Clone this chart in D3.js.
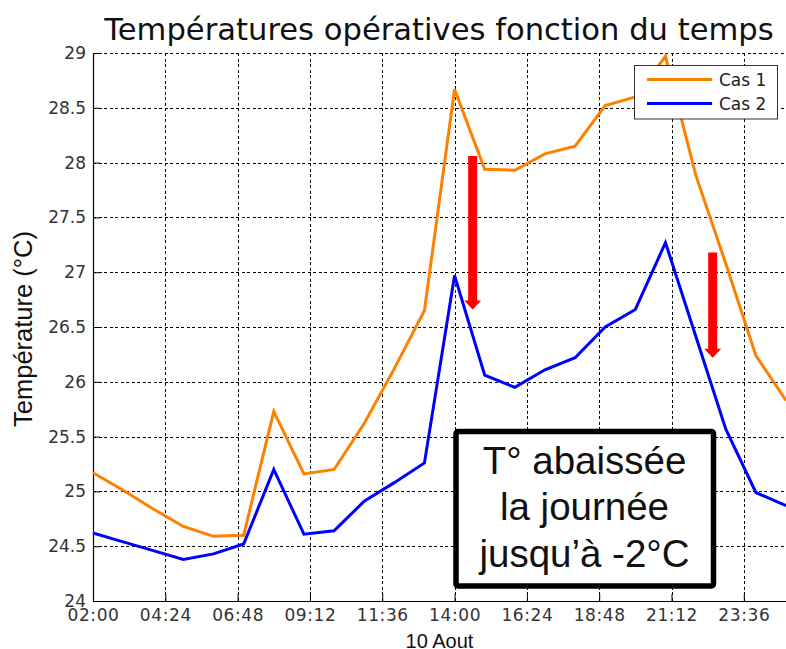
<!DOCTYPE html>
<html lang="fr">
  <head>
    <meta charset="UTF-8" />
    <title>Températures opératives</title>
    <script src="https://d3js.org/d3.v7.min.js"></script>
    <style>
      body { margin: 0; background: #fff; }
    </style>
  </head>
  <body>
    <svg width="786" height="649"></svg>

    <script>
      // hourly samples, 10 Aout 02:00 -> 11 Aout 01:00
      var hours = ["02:00", "03:00", "04:00", "05:00", "06:00", "07:00", "08:00", "09:00",
        "10:00", "11:00", "12:00", "13:00", "14:00", "15:00", "16:00", "17:00",
        "18:00", "19:00", "20:00", "21:00", "22:00", "23:00", "00:00", "01:00"];

      var cas1 = [25.17, 25.01, 24.84, 24.68, 24.59, 24.60, 25.73, 25.16,
        25.20, 25.62, 26.12, 26.65, 28.67, 27.94, 27.93, 28.08,
        28.15, 28.52, 28.60, 28.97, 27.89, 27.08, 26.24, 25.83];

      var cas2 = [24.62, 24.54, 24.46, 24.38, 24.43, 24.52, 25.20, 24.61,
        24.64, 24.91, 25.08, 25.26, 26.97, 26.06, 25.95, 26.11,
        26.22, 26.50, 26.66, 27.27, 26.42, 25.57, 24.99, 24.87];

      var xTickLabels = ["02:00", "04:24", "06:48", "09:12", "11:36", "14:00", "16:24", "18:48", "21:12", "23:36"];
      var yTickLabels = ["24", "24.5", "25", "25.5", "26", "26.5", "27", "27.5", "28", "28.5", "29"];

      // red arrows: time, start temp, end temp
      var arrowTimes = ["14:36", "22:34"];
      var arrowFrom = [28.06, 27.18];
      var arrowTo = [26.66, 26.22];

      var seriesNames = ["Cas 1", "Cas 2"];
      var seriesColors = ["#ff8000", "#0000ff"];

      var svg = d3.select("svg");
      var parseTime = d3.timeParse("%Y-%m-%d %H:%M");

      // times before 02:00 belong to the next day
      function toDate(hhmm) {
        var h = +hhmm.split(":")[0];
        return parseTime((h < 2 ? "2014-08-11 " : "2014-08-10 ") + hhmm);
      }

      var plotLeft = 93, plotRight = 786, plotTop = 53, plotBottom = 601;

      var x = d3.scaleTime()
        .domain([toDate("02:00"), toDate("01:00")])
        .range([plotLeft, plotRight]);

      var y = d3.scaleLinear().domain([24, 29]).range([plotBottom, plotTop]);

      var xTicks = xTickLabels.map(toDate);
      var yTicks = yTickLabels.map(Number);

      // dashed grid
      var grid = svg.append("g").attr("stroke", "#000").attr("stroke-width", 1)
        .attr("stroke-dasharray", "3,2.5").attr("shape-rendering", "crispEdges");
      grid.selectAll(".gx").data(xTicks.slice(1)).enter().append("line")
        .attr("x1", function (d) { return Math.round(x(d)) + 0.5; })
        .attr("x2", function (d) { return Math.round(x(d)) + 0.5; })
        .attr("y1", plotTop).attr("y2", plotBottom);
      grid.selectAll(".gy").data(yTicks.slice(1)).enter().append("line")
        .attr("y1", function (d) { return Math.round(y(d)) + 0.5; })
        .attr("y2", function (d) { return Math.round(y(d)) + 0.5; })
        .attr("x1", plotLeft).attr("x2", plotRight);

      // axes, ticks pointing inward
      var xAxis = d3.axisBottom(x).tickValues(xTicks).tickFormat(d3.timeFormat("%H:%M"))
        .tickSizeInner(-7).tickSizeOuter(0).tickPadding(8);
      var yAxis = d3.axisLeft(y).tickValues(yTicks).tickFormat(function (d, i) { return yTickLabels[i]; })
        .tickSizeInner(-7).tickSizeOuter(0).tickPadding(7);

      var gx = svg.append("g").attr("transform", "translate(0," + plotBottom + ")").call(xAxis);
      var gy = svg.append("g").attr("transform", "translate(" + plotLeft + ",0)").call(yAxis);

      [gx, gy].forEach(function (g) {
        g.select(".domain").attr("stroke", "#000").attr("stroke-width", 1.2);
        g.selectAll(".tick line").attr("stroke", "#000");
        g.selectAll(".tick text")
          .attr("fill", "#333")
          .style("font-family", "'DejaVu Sans', sans-serif")
          .style("font-size", "17px");
      });
      gx.selectAll(".tick text").style("letter-spacing", "0.6px");

      // lines
      var line = d3.line()
        .x(function (d, i) { return x(toDate(hours[i])); })
        .y(function (d) { return y(d); });

      [cas1, cas2].forEach(function (vals, k) {
        svg.append("path")
          .datum(vals)
          .attr("d", line)
          .attr("fill", "none")
          .attr("stroke", seriesColors[k])
          .attr("stroke-width", 3)
          .attr("stroke-linejoin", "miter");
      });

      // red arrows
      arrowTimes.forEach(function (t, i) {
        var ax = x(toDate(t)), y0 = y(arrowFrom[i]), y1 = y(arrowTo[i]);
        var head = 9, hw = 8.5, sw = 4.5;
        svg.append("path")
          .attr("fill", "#ff0000")
          .attr("d", "M" + (ax - sw) + "," + y0 + "L" + (ax + sw) + "," + y0 +
            "L" + (ax + sw) + "," + (y1 - head) + "L" + (ax + hw) + "," + (y1 - head) +
            "L" + ax + "," + y1 + "L" + (ax - hw) + "," + (y1 - head) +
            "L" + (ax - sw) + "," + (y1 - head) + "Z");
      });

      // annotation box
      svg.append("rect")
        .attr("x", 456).attr("y", 431.5).attr("width", 257.5).attr("height", 154.5)
        .attr("rx", 2)
        .attr("fill", "#fff").attr("stroke", "#000").attr("stroke-width", 5.5);

      var boxLines = ["T° abaissée", "la journée", "jusqu’à -2°C"];
      svg.selectAll(".boxtxt").data(boxLines).enter().append("text")
        .attr("x", 584.5)
        .attr("y", function (d, i) { return 474 + i * 46.4; })
        .attr("text-anchor", "middle")
        .attr("fill", "#111")
        .style("font-family", "'Liberation Sans', Arial, sans-serif")
        .style("font-size", "38.5px")
        .text(function (d) { return d; });

      // legend
      var lg = svg.append("g");
      lg.append("rect").attr("x", 634.5).attr("y", 65.5).attr("width", 143).attr("height", 53.5)
        .attr("fill", "#fff").attr("stroke", "#333").attr("stroke-width", 1);
      seriesNames.forEach(function (name, i) {
        var ly = 79.5 + i * 24;
        lg.append("line").attr("x1", 647).attr("x2", 712).attr("y1", ly).attr("y2", ly)
          .attr("stroke", seriesColors[i]).attr("stroke-width", 3);
        lg.append("text").attr("x", 719).attr("y", ly + 6.3)
          .attr("fill", "#222")
          .style("font-family", "'DejaVu Sans', sans-serif")
          .style("font-size", "17px")
          .text(name);
      });

      // titles
      svg.append("text")
        .attr("x", 439).attr("y", 39.5)
        .attr("text-anchor", "middle")
        .attr("fill", "#111")
        .style("font-family", "'DejaVu Sans', sans-serif")
        .style("font-size", "30.6px")
        .text("Températures opératives fonction du temps");

      svg.append("text")
        .attr("x", (plotLeft + plotRight) / 2).attr("y", 647.5)
        .attr("text-anchor", "middle")
        .attr("fill", "#111")
        .style("font-family", "'Liberation Sans', Arial, sans-serif")
        .style("font-size", "20px")
        .text("10 Aout");

      svg.append("text")
        .attr("transform", "translate(32,329) rotate(-90)")
        .attr("text-anchor", "middle")
        .attr("fill", "#111")
        .style("font-family", "'Liberation Sans', Arial, sans-serif")
        .style("font-size", "25.5px")
        .text("Température (°C)");
    </script>
  </body>
</html>
